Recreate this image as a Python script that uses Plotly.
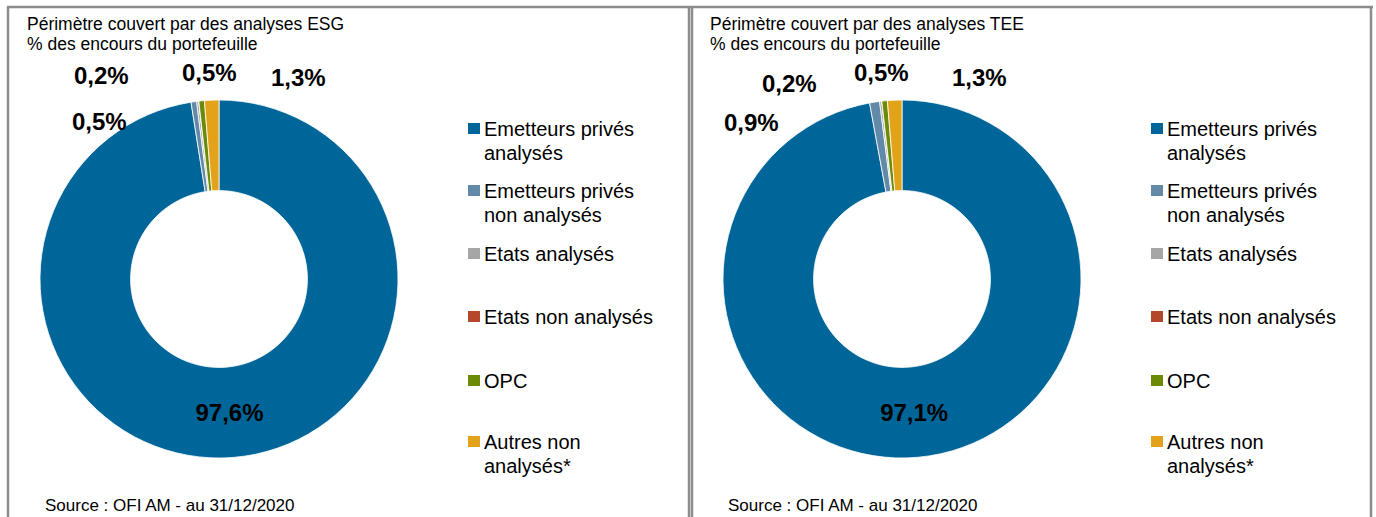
"""
Périmètre couvert par des analyses ESG / TEE – two donut charts side by side.
"""
import plotly.graph_objects as go

# ── data ─────────────────────────────────────────────────────────────────────
CATEGORIES = [
    "Emetteurs privés<br>analysés",
    "Emetteurs privés<br>non analysés",
    "Etats analysés",
    "Etats non analysés",
    "OPC",
    "Autres non<br>analysés*",
]
ESG_VALUES = [97.6, 0.5, 0.2, 0.0, 0.5, 1.3]
TEE_VALUES = [97.1, 0.9, 0.2, 0.0, 0.5, 1.3]

TITLES = [
    "Périmètre couvert par des analyses ESG<br>% des encours du portefeuille",
    "Périmètre couvert par des analyses TEE<br>% des encours du portefeuille",
]
SOURCE = "Source : OFI AM - au 31/12/2020"

# ── style ────────────────────────────────────────────────────────────────────
W, H = 1376, 517
_COLORS = ["#00669a", "#6389a8", "#a6a6a6", "#b5472b", "#6b8a06", "#e2a31b"]
_FONT = "Liberation Sans, Arial, sans-serif"
_BORDER = "#8c8c8c"
PANEL_DX = 683           # horizontal offset of the right panel
CX, CY, R = 219, 279, 179

# small-slice label positions (pixel centres), per panel: (slice index, x, y)
LABEL_POS = [
    [(1, 99, 121), (2, 101, 76), (4, 209, 73), (5, 298, 77)],
    [(1, 751, 123), (2, 789, 84), (4, 881, 72), (5, 979, 77)],
]
LEGEND_BASE = [135, 197, 260, 323, 387, 448]   # first-line baselines


def px(x):
    return x / W


def py(y):
    return 1 - y / H


def fmt(v):
    return f"{v:.1f}".replace(".", ",") + "%"


annotations = []
shapes = []


def add_text(text, x, baseline, size, step, bold=False):
    """Left-aligned multi-line text, one annotation per line, placed by baseline."""
    for k, line in enumerate(text.split("<br>")):
        top = baseline + k * step - 1 - 0.905 * size
        annotations.append(dict(
            x=px(x), y=py(top), xref="paper", yref="paper",
            text=line, showarrow=False, align="left",
            xanchor="left", yanchor="top",
            font=dict(family=_FONT, size=size, color="black",
                      weight="bold" if bold else "normal"),
        ))


fig = go.Figure()

for p, values in enumerate([ESG_VALUES, TEE_VALUES]):
    dx = p * PANEL_DX
    cx = CX + dx
    big = [fmt(v) if v > 50 else "" for v in values]
    fig.add_trace(
        go.Pie(
            labels=[c.replace("<br>", " ") for c in CATEGORIES],
            values=values,
            text=big,
            textinfo="text",
            textposition=["inside" if t else "none" for t in big],
            insidetextorientation="horizontal",
            textfont=dict(family=_FONT, size=24, color="black", weight="bold"),
            hole=0.494,
            sort=False,
            direction="clockwise",
            rotation=0,
            marker=dict(colors=_COLORS, line=dict(color="white", width=0.8)),
            domain=dict(x=[px(cx - R), px(cx + R)], y=[py(CY + R), py(CY - R)]),
            showlegend=False,
            hoverinfo="label+value",
        )
    )

    # labels for the thin slices
    for idx, x, y in LABEL_POS[p]:
        annotations.append(dict(
            x=px(x), y=py(y), xref="paper", yref="paper",
            text=fmt(values[idx]), showarrow=False,
            xanchor="center", yanchor="middle",
            font=dict(family=_FONT, size=24, color="black", weight="bold"),
        ))

    # title and source
    add_text(TITLES[p], 25 + dx, 29, 17.5, 20)
    add_text(SOURCE, 43 + dx, 510, 17, 20)

    # hand-made legend
    for i, (name, col) in enumerate(zip(CATEGORIES, _COLORS)):
        b = LEGEND_BASE[i]
        shapes.append(dict(
            type="rect", xref="paper", yref="paper",
            x0=px(468 + dx), x1=px(480 + dx), y0=py(b - 1), y1=py(b - 12),
            fillcolor=col, line=dict(width=0),
        ))
        add_text(name, 482 + dx, b, 20, 24)

# panel frames
for x0, x1, y0, y1 in [
    (7, 1373, 7, 7),        # top
    (8, 8, 7, 517),         # left
    (689, 689, 7, 517),     # middle (left panel)
    (692, 692, 7, 517),     # middle (right panel)
    (1371, 1371, 7, 517),   # right
]:
    shapes.append(dict(
        type="line", xref="paper", yref="paper",
        x0=px(x0), x1=px(x1), y0=py(y0), y1=py(y1),
        line=dict(color=_BORDER, width=2.5),
    ))

fig.update_layout(
    width=W, height=H,
    margin=dict(l=0, r=0, t=0, b=0),
    paper_bgcolor="white",
    plot_bgcolor="white",
    separators=",.",
    annotations=annotations,
    shapes=shapes,
)

# the page body has a default 8px margin; drop it so the figure sits at 0,0
fig.write_html(
    "out.html",
    config={"displayModeBar": False},
    post_script="document.body.style.margin = '0px';",
)
